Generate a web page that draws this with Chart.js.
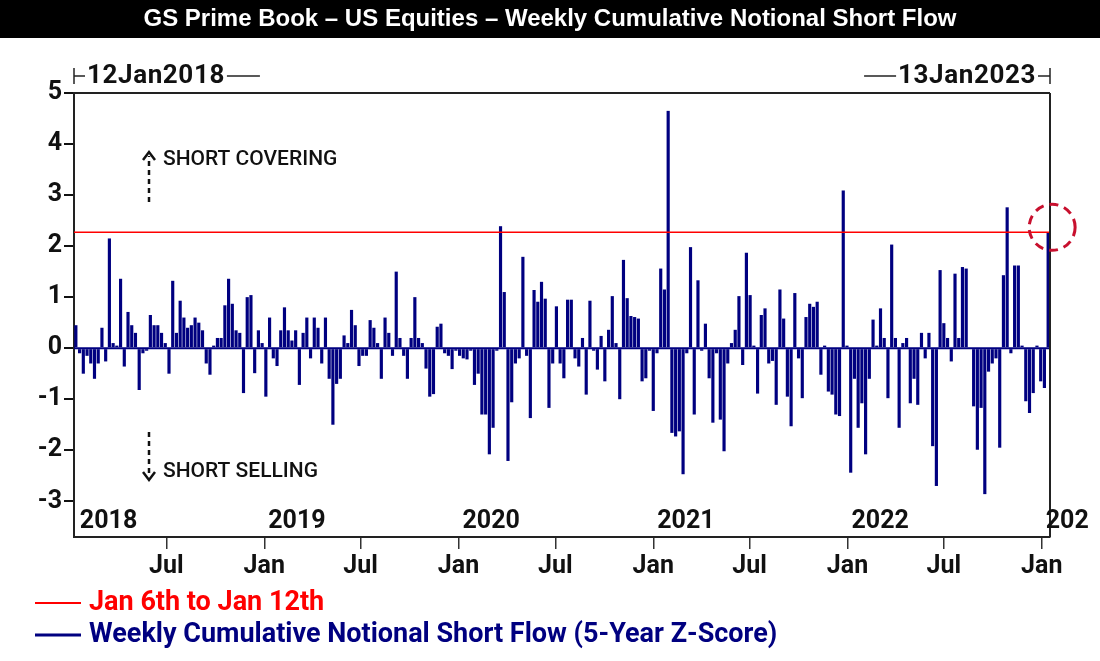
<!DOCTYPE html>
<html>
<head>
<meta charset="utf-8">
<title>GS Prime Book - Weekly Cumulative Notional Short Flow</title>
<script src="https://cdn.jsdelivr.net/npm/chart.js@4.4.1/dist/chart.umd.min.js"></script>
<style>
  html, body { margin: 0; padding: 0; background: #fff; }
  #wrap { position: relative; width: 1100px; height: 661px; }
</style>
</head>
<body>
<div id="wrap"><canvas id="chart" width="1100" height="661"></canvas></div>
<script>
// weekly z-score of cumulative notional short flow, one value per week starting 12 Jan 2018
const startDate = '2018-01-12';
const zScores = [
  0.45, -0.1, -0.5, -0.15, -0.3, -0.6, -0.3, 0.4, -0.26, 2.15,
  0.1, 0.05, 1.36, -0.36, 0.71, 0.45, 0.3, -0.82, -0.1, -0.05,
  0.65, 0.45, 0.45, 0.3, 0.1, -0.5, 1.32, 0.3, 0.93, 0.6,
  0.4, 0.45, 0.6, 0.5, 0.35, -0.3, -0.52, 0.05, 0.2, 0.2,
  0.84, 1.36, 0.87, 0.35, 0.3, -0.88, 1.0, 1.04, -0.49, 0.35,
  0.1, -0.95, 0.6, -0.2, -0.35, 0.35, 0.8, 0.35, 0.15, 0.35,
  -0.72, 0.3, 0.6, -0.2, 0.6, 0.4, -0.3, 0.6, -0.6, -1.5,
  -0.7, -0.6, 0.25, 0.1, 0.75, 0.45, -0.35, -0.15, -0.15, 0.55,
  0.4, 0.1, -0.6, 0.6, 0.3, -0.15, 1.5, 0.2, -0.15, -0.6,
  0.2, 1.0, 0.2, 0.1, -0.4, -0.95, -0.9, 0.42, 0.48, -0.1,
  -0.15, -0.41, -0.05, -0.15, -0.2, -0.22, -0.05, -0.72, -0.5, -1.3,
  -1.3, -2.08, -1.56, -0.05, 2.39, 1.1, -2.21, -1.06, -0.3, -0.2,
  1.79, -0.15, -1.37, 1.14, 0.91, 1.3, 0.97, -1.17, -0.3, 0.82,
  -0.3, -0.59, 0.95, 0.95, -0.2, -0.36, 0.2, -0.91, 0.93, -0.05,
  -0.42, 0.24, -0.65, 0.36, 1.02, 0.1, -1.0, 1.73, 0.98, 0.63,
  0.61, 0.58, -0.65, -0.59, -0.05, -1.23, -0.1, 1.56, 1.15, 4.65,
  -1.66, -1.73, -1.63, -2.47, -0.1, 1.98, -1.3, 1.33, -0.05, 0.48,
  -0.59, -1.46, -0.1, -1.4, -2.02, -0.3, 0.1, 0.36, 1.02, -0.33,
  1.87, 1.04, 0.05, -0.89, 0.65, 0.78, -0.3, -0.25, -1.11, 1.15,
  0.58, -0.95, -1.53, 1.08, -0.2, -0.98, 0.61, 0.87, 0.81, 0.91,
  -0.52, 0.05, -0.85, -0.91, -1.3, -1.33, 3.09, 0.05, -2.44, -0.6,
  -1.56, -1.08, -2.08, -0.6, 0.56, 0.05, 0.78, 0.2, -0.98, 2.03,
  0.2, -1.56, 0.1, 0.2, -1.08, -0.6, -1.11, 0.3, -0.2, 0.3,
  -1.92, -2.7, 1.53, 0.49, 0.2, -0.26, 1.46, 0.2, 1.59, 1.56,
  0.0, -1.14, -1.99, -1.17, -2.86, -0.46, -0.3, -0.2, -1.95, 1.43,
  2.76, -0.1, 1.62, 1.62, 0.05, -1.04, -1.27, -0.88, 0.05, -0.65,
  -0.78, 2.27
];
const currentWeek = 2.27;  // Jan 6th to Jan 12th

const yTicks = [5, 4, 3, 2, 1, 0, -1, -2, -3];
const monthTickDates = ['2018-07-01', '2019-01-01', '2019-07-01', '2020-01-01', '2020-07-01',
  '2021-01-01', '2021-07-01', '2022-01-01', '2022-07-01', '2023-01-01'];
const monthTickLabels = ['Jul', 'Jan', 'Jul', 'Jan', 'Jul', 'Jan', 'Jul', 'Jan', 'Jul', 'Jan'];
const yearDates = ['2018-01-12', '2019-01-01', '2020-01-01', '2021-01-01', '2022-01-01', '2023-01-01'];
const yearLabels = ['2018', '2019', '2020', '2021', '2022', '202'];
const rangeLabels = ['12Jan2018', '13Jan2023'];
const titleText = 'GS Prime Book \u2013 US Equities \u2013 Weekly Cumulative Notional Short Flow';
const legendLabels = ['Jan 6th to Jan 12th', 'Weekly Cumulative Notional Short Flow (5-Year Z-Score)'];

const NAVY = '#000080';
const RED = '#ff0000';
const FONT = 'Roboto, "Liberation Sans", sans-serif';
const WEEK_MS = 7 * 86400000;

// category labels: the week-ending date of each value
const weekLabels = zScores.map((_, i) =>
  new Date(Date.parse(startDate) + i * WEEK_MS).toISOString().slice(0, 10));

// fractional category index for any calendar date
function weekIndex(iso) {
  return (Date.parse(iso) - Date.parse(startDate)) / WEEK_MS;
}

function seg(ctx, x1, y1, x2, y2) {
  ctx.beginPath();
  ctx.moveTo(x1, y1);
  ctx.lineTo(x2, y2);
  ctx.stroke();
}

function dashedArrow(ctx, x, yFrom, yTo) {
  const dir = yTo < yFrom ? -1 : 1;
  ctx.save();
  ctx.strokeStyle = '#111';
  ctx.lineWidth = 2.5;
  ctx.setLineDash([5, 4]);
  seg(ctx, x, yFrom, x, yTo - dir * 4);
  ctx.setLineDash([]);
  ctx.beginPath();
  ctx.moveTo(x - 6, yTo - dir * 8);
  ctx.lineTo(x, yTo);
  ctx.lineTo(x + 6, yTo - dir * 8);
  ctx.stroke();
  ctx.restore();
}

const decorPlugin = {
  id: 'decor',
  afterDatasetsDraw(chart) {
    const { ctx, chartArea: a, scales: { y } } = chart;
    ctx.save();
    // zero band
    ctx.strokeStyle = NAVY;
    ctx.lineWidth = 2;
    const y0 = y.getPixelForValue(0);
    seg(ctx, a.left, y0, a.right, y0);
    // latest week level
    ctx.strokeStyle = RED;
    ctx.lineWidth = 1.5;
    const yr = y.getPixelForValue(currentWeek);
    seg(ctx, a.left, yr, a.right, yr);
    ctx.restore();
  },
  afterDraw(chart) {
    const { ctx, chartArea: a, scales: { x, y } } = chart;
    ctx.save();

    // title bar
    ctx.fillStyle = '#000';
    ctx.fillRect(0, 0, chart.width, 38);
    ctx.fillStyle = '#fff';
    ctx.font = 'bold 24px "Liberation Sans", Arial, sans-serif';
    ctx.textAlign = 'center';
    ctx.textBaseline = 'middle';
    ctx.fillText(titleText, chart.width / 2, 19);

    // top and right frame
    ctx.strokeStyle = '#222';
    ctx.lineWidth = 2;
    seg(ctx, a.left, a.top, a.right, a.top);
    seg(ctx, a.right, a.top, a.right, a.bottom);

    // date range markers above the plot
    ctx.fillStyle = '#111';
    ctx.font = 'bold 26px ' + FONT;
    ctx.letterSpacing = '0.6px';
    ctx.textBaseline = 'middle';
    ctx.lineWidth = 1.5;
    const ry = 76;
    ctx.textAlign = 'left';
    const w0 = ctx.measureText(rangeLabels[0]).width;
    seg(ctx, a.left, ry - 8, a.left, ry + 8);
    seg(ctx, a.left, ry, a.left + 11, ry);
    ctx.fillText(rangeLabels[0], a.left + 13, ry);
    seg(ctx, a.left + 15 + w0, ry, a.left + 48 + w0, ry);
    ctx.textAlign = 'right';
    const w1 = ctx.measureText(rangeLabels[1]).width;
    seg(ctx, a.right, ry - 8, a.right, ry + 8);
    seg(ctx, a.right, ry, a.right - 12, ry);
    ctx.fillText(rangeLabels[1], a.right - 14, ry);
    seg(ctx, a.right - 16 - w1, ry, a.right - 48 - w1, ry);
    ctx.letterSpacing = '0px';

    // year labels inside the bottom of the plot
    ctx.font = 'bold 25px ' + FONT;
    ctx.textAlign = 'left';
    yearLabels.forEach((lbl, i) => {
      const px = Math.max(a.left, x.getPixelForValue(weekIndex(yearDates[i])));
      ctx.fillText(lbl, px + 4, a.bottom - 15);
    });

    // direction notes
    ctx.font = '500 21px ' + FONT;
    ctx.fillStyle = '#111';
    ctx.fillText('SHORT COVERING', 163, 160);
    ctx.fillText('SHORT SELLING', 163, 472);
    dashedArrow(ctx, 149, 202, 152);
    dashedArrow(ctx, 149, 432, 480);

    // circle round the latest week
    const cx = x.getPixelForValue(zScores.length - 1) + 4;
    const cy = y.getPixelForValue(currentWeek) - 5;
    ctx.strokeStyle = '#c8102e';
    ctx.lineWidth = 3;
    ctx.setLineDash([9, 6]);
    ctx.beginPath();
    ctx.arc(cx, cy, 23, 0, Math.PI * 2);
    ctx.stroke();
    ctx.setLineDash([]);

    // legend
    const legendColors = [RED, NAVY];
    const legendWidths = [2, 3];
    ctx.font = 'bold 27px ' + FONT;
    ctx.textAlign = 'left';
    legendLabels.forEach((lbl, i) => {
      const ly = 603 + i * 32;
      ctx.strokeStyle = legendColors[i];
      ctx.lineWidth = legendWidths[i];
      seg(ctx, 35, ly, 81, ly);
      ctx.fillStyle = legendColors[i];
      ctx.fillText(lbl, 89, ly);
    });

    ctx.restore();
  }
};

new Chart(document.getElementById('chart'), {
  type: 'bar',
  data: {
    labels: weekLabels,
    datasets: [{
      label: legendLabels[1],
      data: zScores,
      backgroundColor: NAVY,
      borderWidth: 0,
      barPercentage: 0.85,
      categoryPercentage: 1.0
    }]
  },
  options: {
    responsive: false,
    animation: false,
    devicePixelRatio: 1,
    layout: { padding: { left: 0, right: 50, top: 93, bottom: 78 } },
    plugins: {
      legend: { display: false },
      tooltip: { enabled: false }
    },
    scales: {
      x: {
        offset: true,
        grid: { display: true, drawOnChartArea: false, drawTicks: true, tickLength: 12, lineWidth: 1.5, color: '#333', offset: false },
        border: { display: true, color: '#222', width: 2 },
        ticks: {
          autoSkip: false,
          maxRotation: 0,
          minRotation: 0,
          padding: 3,
          color: '#111',
          font: { family: FONT, size: 25, weight: 'bold' },
          callback: (v, i) => monthTickLabels[i]
        },
        afterBuildTicks: s => { s.ticks = monthTickDates.map(d => ({ value: weekIndex(d) })); },
        afterFit: s => { s.height = 46; }
      },
      y: {
        min: -3.7,
        max: 5,
        grid: { display: true, drawOnChartArea: false, drawTicks: true, tickLength: 10, lineWidth: 2, color: '#111' },
        border: { display: true, color: '#222', width: 2 },
        ticks: {
          padding: 2,
          color: '#111',
          font: { family: FONT, size: 25, weight: 'bold' }
        },
        afterBuildTicks: s => { s.ticks = yTicks.map(v => ({ value: v })); },
        afterFit: s => { s.width = 74; }
      }
    }
  },
  plugins: [decorPlugin]
});
</script>
</body>
</html>
